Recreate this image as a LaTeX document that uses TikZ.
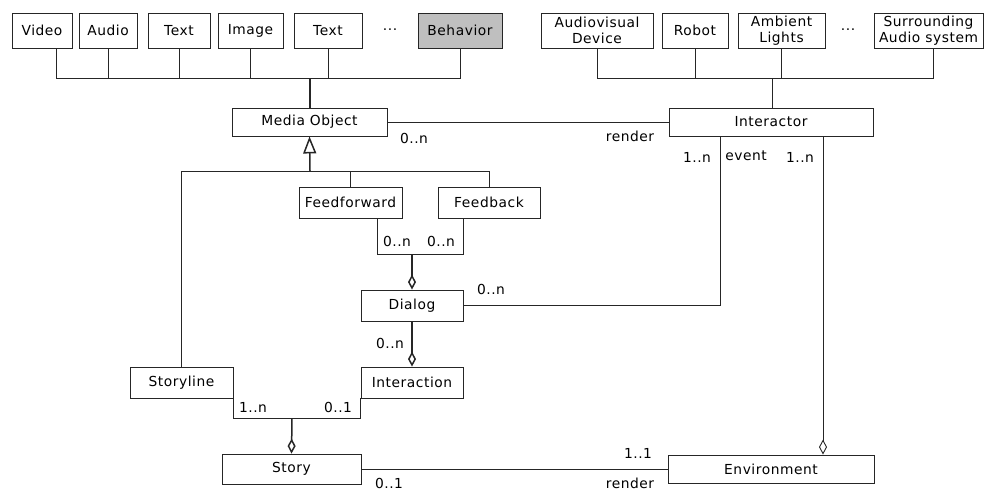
\documentclass[tikz,border=0pt]{standalone}
\usepackage{fontspec}
\setmainfont{DejaVu Sans}[LetterSpace=4]
\usetikzlibrary{arrows.meta}
\begin{document}
\begin{tikzpicture}[x=1pt,y=-1pt,
  font=\fontsize{13.8}{16.5}\selectfont,
  line width=0.9pt, draw=black!85,
  cls/.style={draw=black!85, rectangle, inner sep=0pt, align=center,
              minimum height=#1},
  cls/.default=35pt,
  mult/.style={inner sep=0pt},
  agg/.style={-{Diamond[open,length=15pt,width=8pt]}},
  gen/.style={-{Triangle[open,length=17pt,width=13pt]}},
  heavy/.style={line width=1.5pt}
]
\useasboundingbox (0,0) rectangle (984,491);

% media kinds
\node[cls, minimum width=60pt]  (video)    at (42,30.5)  {Video};
\node[cls, minimum width=58pt]  (audio)    at (108,30.5) {Audio};
\node[cls, minimum width=62pt]  (text1)    at (179,30.5) {Text};
\node[cls, minimum width=65pt]  (image)    at (250.5,30.5) {Image};
\node[cls, minimum width=68pt]  (text2)    at (328,30.5) {Text};
\node[mult]                     (mdots)    at (390,30)   {...};
\node[cls, minimum width=84pt, fill=black!25] (behavior) at (460,30.5) {Behavior};

% output devices
\node[cls, minimum width=112pt] (av)       at (597,30.5) {Audiovisual\\Device};
\node[cls, minimum width=66pt]  (robot)    at (695,30.5) {Robot};
\node[cls, minimum width=87pt]  (ambient)  at (781.5,30.5) {Ambient\\Lights};
\node[mult]                     (ddots)    at (848,30)   {...};
\node[cls, minimum width=109pt] (surround) at (928.5,30.5) {Surrounding\\Audio system};

% core classes
\node[cls=28pt, minimum width=155pt] (media)       at (309.5,122) {Media Object};
\node[cls=28pt, minimum width=204pt] (interactor)  at (771,122)   {Interactor};
\node[cls=31pt, minimum width=103pt] (feedforward) at (350.5,202.5) {Feedforward};
\node[cls=31pt, minimum width=102pt] (feedback)    at (489,202.5)   {Feedback};
\node[cls=31pt, minimum width=102pt] (dialog)      at (412,305.5)   {Dialog};
\node[cls=31pt, minimum width=103pt] (storyline)   at (181.5,382.5) {Storyline};
\node[cls=31pt, minimum width=102pt] (interaction) at (412,382.5)   {Interaction};
\node[cls=30pt, minimum width=139pt] (story)       at (291.5,469)   {Story};
\node[cls=28pt, minimum width=206pt] (environment) at (771,469)     {Environment};

% bus of media kinds
\coordinate (mbus) at (310,78);
\coordinate (vdrop) at ([xshift=14pt]video.south);
\draw (vdrop) |- (mbus -| behavior.south) -- (behavior.south);
\foreach \n in {audio,text1,image,text2} \draw (\n.south) -- (\n.south |- mbus);
\draw[heavy] (mbus) -- (mbus |- media.north);

% bus of devices
\coordinate (dbus) at (772,78);
\coordinate (sdrop) at ([xshift=4.5pt]surround.south);
\draw (av.south) |- (dbus -| sdrop) -- (sdrop);
\foreach \n in {robot,ambient} \draw (\n.south) -- (\n.south |- dbus);
\draw (dbus) -- (dbus |- interactor.north);

% media object rendered by interactor
\draw (media.east) -- (interactor.west);
\node[mult] (m1) at (414,138) {0..n};
\node[mult] (m2) at (630,136) {render};

% generalisation of media object
\coordinate (gjoin) at (310,171);
\draw[heavy, gen] (gjoin) -- (media.south);
\draw (storyline.north |- gjoin) -- (feedback.north |- gjoin);
\draw (storyline.north) -- (storyline.north |- gjoin);
\draw (feedforward.north) -- (feedforward.north |- gjoin);
\draw (feedback.north) -- (feedback.north |- gjoin);

% dialog aggregates feedforward and feedback
\coordinate (djoin) at (412,254);
\coordinate (ffdrop) at ([xshift=26.5pt]feedforward.south);
\coordinate (fbdrop) at ([xshift=-26pt]feedback.south);
\draw (ffdrop) |- (djoin -| fbdrop) -- (fbdrop);
\draw[heavy, agg] (djoin) -- (dialog.north);
\node[mult] (m3) at (397,241) {0..n};
\node[mult] (m4) at (441,241) {0..n};

% dialog events from interactor
\coordinate (evt) at (720,136);
\draw (dialog.east) -| (evt);
\node[mult] (m5) at (491,289) {0..n};
\node[mult] (m6) at (697,157) {1..n};
\node[mult] (m7) at (746,156) {event};

% interaction aggregates dialog
\draw[heavy, agg] (dialog.south) -- (interaction.north);
\node[mult] (m8) at (390,343) {0..n};

% story aggregates storylines and interactions
\coordinate (sjoin) at (292,418);
\draw (storyline.south east) |- (sjoin) -| (interaction.south west);
\draw[heavy, agg] (sjoin) -- (story.north);
\node[mult] (m9)  at (253,407) {1..n};
\node[mult] (m10) at (338,407) {0..1};

% story rendered in environment
\draw (story.east) -- (environment.west);
\node[mult] (m11) at (389,483.5) {0..1};
\node[mult] (m12) at (638,453) {1..1};
\node[mult] (m13) at (630,483) {render};

% environment aggregates interactors
\coordinate (ienv) at (823,136);
\draw[agg] (ienv) -- (ienv |- environment.north);
\node[mult] (m14) at (800,157) {1..n};
\end{tikzpicture}
\end{document}
